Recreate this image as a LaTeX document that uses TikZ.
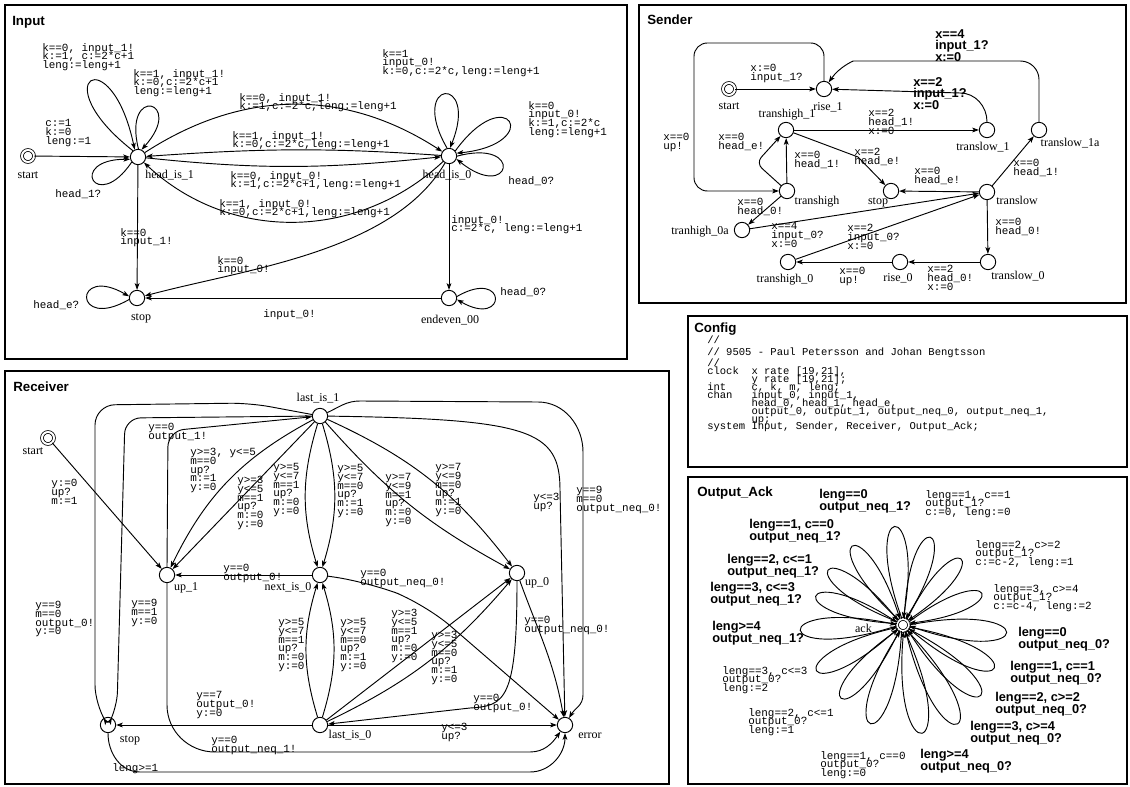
\documentclass[tikz,border=0pt]{standalone}
\usepackage{fontspec}
\setmainfont{Liberation Serif}
\newfontfamily\monof{Liberation Mono}
\newfontfamily\sansf{Liberation Sans}
\usetikzlibrary{arrows.meta,calc}
\setlength{\lineskiplimit}{-30pt}

\tikzset{
  frame/.style={draw=black, line width=2.2pt},
  title/.style={font=\sansf\bfseries\fontsize{10}{12}\selectfont, anchor=north west, inner sep=0pt},
  loc/.style={circle, draw, line width=0.7pt, minimum size=11.5pt, inner sep=0pt},
  initloc/.style={circle, draw, line width=0.6pt, double, double distance=1.5pt, minimum size=9pt, inner sep=0pt},
  nlbl/.style={font=\fontsize{9}{9}\selectfont, inner sep=0pt},
  ml/.style={font=\monof\fontsize{8.2}{6.6}\selectfont, align=left, anchor=north west, inner sep=0pt},
  bl/.style={font=\sansf\bfseries\fontsize{9.6}{8.7}\selectfont, align=left, anchor=north west, inner sep=0pt},
  arr/.style={line width=0.7pt, -{Stealth[length=5pt,width=3.6pt,inset=1.2pt]}},
}

\newcommand\petal[4]{%
  \pgfmathtruncatemacro\ptA{#2+0.4*#4}%
  \pgfmathtruncatemacro\ptB{#2-0.4*#4}%
  \pgfmathsetmacro\ptC{#2+#4}%
  \pgfmathsetmacro\ptD{#2-#4}%
  \pgfmathsetmacro\ptL{(#3-7)/cos(#4)}%
  \draw[arr] (#1.\ptA) .. controls +(\ptC:\ptL pt) and +(\ptD:\ptL pt) .. (#1.\ptB);
}

\begin{document}
\begin{tikzpicture}[x=0.75pt,y=-0.75pt]
\fill[white] (0,0) rectangle (1130,787);
\useasboundingbox (0,0) rectangle (1130,787);

% ================= INPUT =================
\draw[frame] (5,5) rectangle (627,359);
\node[title] (tIn) at (12,16) {Input};
\node[initloc] (iS) at (28,156) {};
\node[loc] (iH1) at (138,157) {};
\node[loc] (iH0) at (449,156) {};
\node[loc] (iStop) at (137,298) {};
\node[loc] (iEnd) at (449,298) {};
\node[nlbl] (iSl) at (28,175) {start};
\node[nlbl, anchor=west] (iH1l) at (145,175) {head\_is\_1};
\node[nlbl] (iH0l) at (447,175) {head\_is\_0};
\node[nlbl] (iStopl) at (141,318) {stop};
\node[nlbl] (iEndl) at (450,320) {endeven\_00};

\draw[arr] (iS) -- (iH1);
\petal{iH1}{122}{88}{20}
\petal{iH1}{76}{51}{28}
\petal{iH1}{208}{49}{28}
\petal{iH0}{94}{61}{26}
\petal{iH0}{30}{68}{24}
\petal{iH0}{-12}{54}{27}
\petal{iStop}{180}{49}{30}
\petal{iEnd}{0}{45}{30}
\draw[arr] (iH1) to[out=33,in=147] (iH0);
\draw[arr] (iH0) to[out=176,in=4] (iH1);
\draw[arr] (iH1) to[out=-6,in=-174] (iH0);
\draw[arr] (iH0) to[out=-137,in=-43] (iH1);
\draw[arr] (iH1) -- (iStop);
\draw[arr] (iH0) to[out=-120,in=15,looseness=0.8] (iStop);
\draw[arr] (iH0) -- (iEnd);
\draw[arr] (iEnd) -- (iStop);

\node[ml] (iL1) at (45,119) {c:=1\\k:=0\\leng:=1};
\node[ml] (iL2) at (42,43) {k==0, input\_1!\\k:=1, c:=2*c+1\\leng:=leng+1};
\node[ml] (iL3) at (133,69) {k==1, input\_1!\\k:=0,c:=2*c+1\\leng:=leng+1};
\node[ml] (iL4) at (55,189) {head\_1?};
\node[ml] (iL5) at (239,93) {k==0, input\_1!\\k:=1,c:=2*c,leng:=leng+1};
\node[ml] (iL6) at (232,131) {k==1, input\_1!\\k:=0,c:=2*c,leng:=leng+1};
\node[ml] (iL7) at (230,171) {k==0, input\_0!\\k:=1,c:=2*c+1,leng:=leng+1};
\node[ml] (iL8) at (219,199) {k==1, input\_0!\\k:=0,c:=2*c+1,leng:=leng+1};
\node[ml] (iL9) at (382,49) {k==1\\input\_0!\\k:=0,c:=2*c,leng:=leng+1};
\node[ml] (iL10) at (528,101) {k==0\\input\_0!\\k:=1,c:=2*c\\leng:=leng+1};
\node[ml] (iL11) at (508,176) {head\_0?};
\node[ml] (iL12) at (120,228) {k==0\\input\_1!};
\node[ml] (iL13) at (217,256) {k==0\\input\_0!};
\node[ml] (iL14) at (451,215) {input\_0!\\c:=2*c, leng:=leng+1};
\node[ml] (iL15) at (263,309) {input\_0!};
\node[ml] (iL16) at (33,300) {head\_e?};
\node[ml] (iL17) at (500,287) {head\_0?};

% ================= SENDER =================
\draw[frame] (639,5) rectangle (1126,303);
\node[title] (tSe) at (647,15) {Sender};
\node[initloc] (sS) at (729,89) {};
\node[loc] (sR1) at (824,89) {};
\node[loc] (sTH1) at (786,130) {};
\node[loc] (sTL1) at (987,130) {};
\node[loc] (sTL1a) at (1039,130) {};
\node[loc] (sTH) at (787,191) {};
\node[loc] (sStop) at (891,191) {};
\node[loc] (sTL) at (987,192) {};
\node[loc] (sTH0a) at (742,230) {};
\node[loc] (sTH0) at (788,262) {};
\node[loc] (sR0) at (900,262) {};
\node[loc] (sTL0) at (988,262) {};
\node[nlbl] (sSl) at (729,106) {start};
\node[nlbl] (sR1l) at (828,107) {rise\_1};
\node[nlbl] (sTH1l) at (787,115) {transhigh\_1};
\node[nlbl] (sTL1l) at (983,147) {translow\_1};
\node[nlbl] (sTL1al) at (1070,143) {translow\_1a};
\node[nlbl] (sTHl) at (817,202) {transhigh};
\node[nlbl] (sStopl) at (878,202) {stop};
\node[nlbl] (sTLl) at (1017,200) {translow};
\node[nlbl] (sTH0al) at (700,232) {tranhigh\_0a};
\node[nlbl] (sTH0l) at (785,280) {transhigh\_0};
\node[nlbl] (sR0l) at (898,278) {rise\_0};
\node[nlbl] (sTL0l) at (1018,276) {translow\_0};

\draw[arr] (sS) -- (sR1);
\draw[arr, rounded corners=14] (sTL1a.north) -- (1039,61) -- (872,61) to[out=180,in=55] (sR1);
\draw[arr] (sTL1.north) to[out=90,in=0] (960,93) -- (sR1);
\draw[arr, rounded corners=10] (sR1.north) -- (824,43) -- (694,43) -- (694,191) -- (sTH);
\draw[arr] (sTH1) -- (sTL1);
\draw[arr] (sTH1) -- (858,157) -- (sStop);
\draw[arr] (sTH) -- (sTH1);
\draw[arr, rounded corners=6] (sTH) -- (756,163) -- (sTH1);
\draw[arr] (sTH) -- (sTH0a);
\draw[arr] (sTH0a) -- (sTL);
\draw[arr] (sTH0) -- (sTL);
\draw[arr] (sTL) -- (sStop);
\draw[arr] (sTL) -- (sTL1a);
\draw[arr] (sTL) -- (sTL0);
\draw[arr] (sTL0) -- (sR0);
\draw[arr] (sR0) -- (sTH0);

\node[ml] (sL1) at (750,64) {x:=0\\input\_1?};
\node[bl] (sL2) at (935,29) {x==4\\input\_1?\\x:=0};
\node[bl] (sL3) at (913,77) {x==2\\input\_1?\\x:=0};
\node[ml] (sL4) at (663,133) {x==0\\up!};
\node[ml] (sL5) at (868,109) {x==2\\head\_1!\\x:=0};
\node[ml] (sL6) at (854,148) {x==2\\head\_e!};
\node[ml] (sL7) at (794,151) {x==0\\head\_1!};
\node[ml] (sL8) at (718,133) {x==0\\head\_e!};
\node[ml] (sL9) at (737,198) {x==0\\head\_0!};
\node[ml] (sL10) at (771,222) {x==4\\input\_0?\\x:=0};
\node[ml] (sL11) at (847,224) {x==2\\input\_0?\\x:=0};
\node[ml] (sL12) at (914,167) {x==0\\head\_e!};
\node[ml] (sL13) at (1013,159) {x==0\\head\_1!};
\node[ml] (sL14) at (995,218) {x==0\\head\_0!};
\node[ml] (sL15) at (927,265) {x==2\\head\_0!\\x:=0};
\node[ml] (sL16) at (839,267) {x==0\\up!};

% ================= CONFIG =================
\draw[frame] (688,316) rectangle (1127,467);
\node[title] (tCo) at (694,323) {Config};
\node[ml, font=\monof\fontsize{7.9}{5.9}\selectfont] (cfg) at (707,336) {//\\[3pt]
// 9505 - Paul Petersson and Johan Bengtsson\\[2.3pt]
//\\[0.2pt]
clock\ \ x rate [19,21],\\
\phantom{clock\ \ }y rate [19,21];\\
int\ \ \ \ c, k, m, leng;\\
chan\ \ \ input\_0, input\_1,\\
\phantom{chan\ \ \ }head\_0, head\_1, head\_e,\\
\phantom{chan\ \ \ }output\_0, output\_1, output\_neq\_0, output\_neq\_1,\\
\phantom{chan\ \ \ }up;\\
system Input, Sender, Receiver, Output\_Ack;};

% ================= RECEIVER =================
\draw[frame] (5,371) rectangle (669,784);
\node[title] (tRe) at (13,382) {Receiver};
\node[initloc] (rS) at (48,438) {};
\node[loc] (rL1) at (320,416) {};
\node[loc] (rU1) at (167,575) {};
\node[loc] (rN0) at (320,575) {};
\node[loc] (rU0) at (517,573) {};
\node[loc] (rStop) at (108,725) {};
\node[loc] (rL0) at (320,725) {};
\node[loc] (rErr) at (565,725) {};
\node[nlbl] (rSl) at (33,451) {start};
\node[nlbl] (rL1l) at (318,398) {last\_is\_1};
\node[nlbl] (rU1l) at (186,588) {up\_1};
\node[nlbl] (rN0l) at (288,587) {next\_is\_0};
\node[nlbl] (rU0l) at (537,583) {up\_0};
\node[nlbl] (rStopl) at (130,740) {stop};
\node[nlbl] (rL0l) at (350,735) {last\_is\_0};
\node[nlbl] (rErrl) at (590,736) {error};

\draw[arr] (rS) -- (rU1);
\draw[arr, rounded corners=12] (rU1.north) -- (168,431) -- (rL1);
\draw[arr] (rL1) to[bend right=18] (rU1);
\draw[arr] (rL1) -- (rU1);
\draw[arr] (rL1) to[bend right=17] (rN0);
\draw[arr] (rL1) to[bend left=17] (rN0);
\draw[arr] (rL1) to[bend right=10] (rU0);
\draw[arr] (rL1) to[bend left=14] (rU0);
\draw[arr] (rL1) .. controls (530,419) and (560,430) .. (560,490) -- (rErr);
\draw[arr] (rL1) to[out=25,in=180] (360,401) -- (538,402) to[out=0,in=90] (583,452) -- (583,695) to[out=-90,in=60] (rErr);
\draw[arr, rounded corners=15] (rL1) -- (250,403) -- (95,405) -- (95,705) -- (rStop);
\draw[arr, rounded corners=12] (rL1) -- (125,418) -- (117,708) -- (rStop);
\draw[arr] (rN0) -- (rU1);
\draw[arr, rounded corners=25] (rN0) -- (368,582) -- (425,604) -- (rErr);
\draw[arr] (rU0) to[out=-70,in=100] (rErr);
\draw[arr] (rU0) .. controls (517,700) and (505,706) .. (470,708) -- (rL0);
\draw[arr] (rL0) to[bend left=17] (rN0);
\draw[arr] (rL0) to[bend right=17] (rN0);
\draw[arr] (rL0) -- (rU0);
\draw[arr] (rL0) to[bend right=12] (rU0);
\draw[arr] (rL0) -- (rStop);
\draw[arr] (rL0) -- (rErr);
\draw[arr] (rU1) -- (167,705) to[out=-90,in=180] (215,752) -- (530,752) to[out=0,in=-125] (rErr);
\draw[arr] (rStop) to[out=-90,in=180] (140,772) -- (530,772) to[out=0,in=-90] (rErr);

\node[ml] (rLa) at (51,479) {y:=0\\up?\\m:=1};
\node[ml] (rLb) at (148,423) {y==0\\output\_1!};
\node[ml] (rLc) at (190,448) {y>=3, y<=5\\m==0\\up?\\m:=1\\y:=0};
\node[ml] (rLd) at (237,476) {y>=3\\y<=5\\m==1\\up?\\m:=0\\y:=0};
\node[ml] (rLe) at (273,463) {y>=5\\y<=7\\m==1\\up?\\m:=0\\y:=0};
\node[ml] (rLf) at (337,464) {y>=5\\y<=7\\m==0\\up?\\m:=1\\y:=0};
\node[ml] (rLg) at (385,473) {y>=7\\y<=9\\m==1\\up?\\m:=0\\y:=0};
\node[ml] (rLh) at (435,463) {y>=7\\y<=9\\m==0\\up?\\m:=1\\y:=0};
\node[ml] (rLi) at (533,493) {y<=3\\up?};
\node[ml] (rLj) at (576,486) {y==9\\m==0\\output\_neq\_0!};
\node[ml] (rLk) at (223,564) {y==0\\output\_0!};
\node[ml] (rLl) at (360,569) {y==0\\output\_neq\_0!};
\node[ml] (rLm) at (35,601) {y==9\\m==0\\output\_0!\\y:=0};
\node[ml] (rLn) at (131,599) {y==9\\m==1\\y:=0};
\node[ml] (rLo) at (278,618) {y>=5\\y<=7\\m==1\\up?\\m:=0\\y:=0};
\node[ml] (rLp) at (340,618) {y>=5\\y<=7\\m==0\\up?\\m:=1\\y:=0};
\node[ml] (rLq) at (391,609) {y>=3\\y<=5\\m==1\\up?\\m:=0\\y:=0};
\node[ml] (rLr) at (431,631) {y>=3\\y<=5\\m==0\\up?\\m:=1\\y:=0};
\node[ml] (rLs) at (473,694) {y==0\\output\_0!};
\node[ml] (rLt) at (524,616) {y==0\\output\_neq\_0!};
\node[ml] (rLu) at (196,691) {y==7\\output\_0!\\y:=0};
\node[ml] (rLv) at (441,723) {y<=3\\up?};
\node[ml] (rLw) at (211,736) {y==0\\output\_neq\_1!};
\node[ml] (rLx) at (112,763) {leng>=1};

% ================= OUTPUT_ACK =================
\draw[frame] (688,477) rectangle (1127,784);
\node[title] (tOA) at (697,487) {Output\_Ack};
\node[initloc] (ack) at (903,625) {};
\node[nlbl, anchor=east] (ackl) at (872,628) {ack};
\foreach \a/\r in {95/99,123/94,144/93,162/92,183/103,208/98,230/96,252/104,73/92,49/88,22/85,-4/104,-25/101,-42/105,-61/113,-80/110}{
  \petal{ack}{\a}{\r}{15}
}
\node[bl] (oL1) at (819,489) {leng==0\\output\_neq\_1?};
\node[bl] (oL2) at (749,519) {leng==1, c==0\\output\_neq\_1?};
\node[bl] (oL3) at (727,554) {leng==2, c<=1\\output\_neq\_1?};
\node[bl] (oL4) at (710,582) {leng==3, c<=3\\output\_neq\_1?};
\node[bl] (oL5) at (712,621) {leng>=4\\output\_neq\_1?};
\node[ml] (oL6) at (722,666) {leng==3, c<=3\\output\_0?\\leng:=2};
\node[ml] (oL7) at (748,708) {leng==2, c<=1\\output\_0?\\leng:=1};
\node[ml] (oL8) at (820,751) {leng==1, c==0\\output\_0?\\leng:=0};
\node[ml] (oL9) at (925,490) {leng==1, c==1\\output\_1?\\c:=0, leng:=0};
\node[ml] (oL10) at (975,540) {leng==2, c>=2\\output\_1?\\c:=c-2, leng:=1};
\node[ml] (oL11) at (993,584) {leng==3, c>=4\\output\_1?\\c:=c-4, leng:=2};
\node[bl] (oL12) at (1018,627) {leng==0\\output\_neq\_0?};
\node[bl] (oL13) at (1010,661) {leng==1, c==1\\output\_neq\_0?};
\node[bl] (oL14) at (995,692) {leng==2, c>=2\\output\_neq\_0?};
\node[bl] (oL15) at (970,721) {leng==3, c>=4\\output\_neq\_0?};
\node[bl] (oL16) at (920,749) {leng>=4\\output\_neq\_0?};
\end{tikzpicture}
\end{document}
